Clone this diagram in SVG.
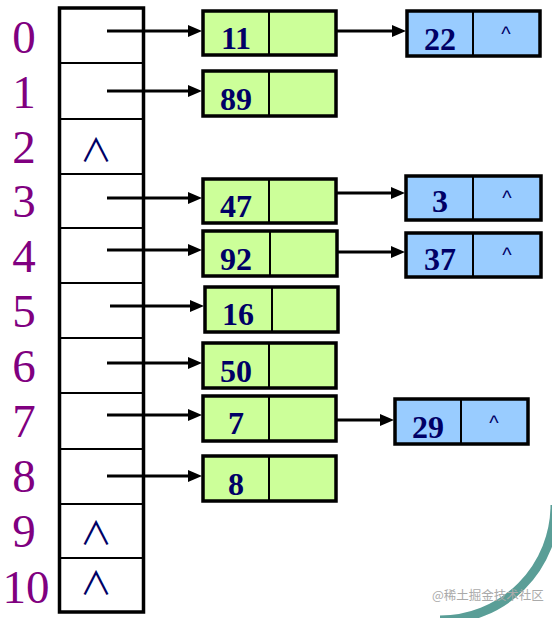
<svg xmlns="http://www.w3.org/2000/svg" width="552" height="618" viewBox="0 0 552 618">
<style>
.idx{font-family:"Liberation Serif","Times New Roman",serif;font-size:47px;fill:#800080;text-anchor:middle}
.val{font-family:"Liberation Serif","Times New Roman",serif;font-size:32px;font-weight:bold;fill:#000066;text-anchor:middle}
.nul{font-family:"Noto Sans CJK JP","DejaVu Sans",sans-serif;font-size:32px;fill:#000066;text-anchor:middle}
.car{font-family:"Liberation Sans",Arial,sans-serif;font-size:20px;fill:#000066;text-anchor:middle}
.tbl{fill:#ffffff;stroke:#000;stroke-width:3.5}
.row{stroke:#000;stroke-width:2}
.g{fill:#ccff99;stroke:#000;stroke-width:3.5}
.b{fill:#99ccff;stroke:#000;stroke-width:3.5}
.div{stroke:#000;stroke-width:2}
.arr{stroke:#000;stroke-width:3;fill:none;marker-end:url(#ah)}
.wm{font-family:"Noto Sans CJK SC","Liberation Sans",sans-serif;font-size:12.5px;fill:#aaaaaa}
</style>
<defs>
<marker id="ah" markerUnits="userSpaceOnUse" markerWidth="14" markerHeight="12" refX="4" refY="6" orient="auto">
<path d="M0,0 L14,6 L0,12 z" fill="#000"/>
</marker>
</defs>
<path d="M 555 505 A 115 115 0 0 1 440 620" fill="none" stroke="#5a9e97" stroke-width="9"/>
<g id="indices">
<text class="idx" x="24" y="53">0</text>
<text class="idx" x="24" y="108">1</text>
<text class="idx" x="24" y="163">2</text>
<text class="idx" x="24" y="217">3</text>
<text class="idx" x="24" y="272">4</text>
<text class="idx" x="24" y="327">5</text>
<text class="idx" x="24" y="382">6</text>
<text class="idx" x="24" y="437">7</text>
<text class="idx" x="24" y="492">8</text>
<text class="idx" x="24" y="547">9</text>
<text class="idx" x="26" y="603">10</text>
</g>
<g id="table">
<rect class="tbl" x="59.5" y="8" width="84" height="604"/>
<line class="row" x1="59" y1="63" x2="144" y2="63"/>
<line class="row" x1="59" y1="119" x2="144" y2="119"/>
<line class="row" x1="59" y1="174" x2="144" y2="174"/>
<line class="row" x1="59" y1="228" x2="144" y2="228"/>
<line class="row" x1="59" y1="283" x2="144" y2="283"/>
<line class="row" x1="59" y1="338" x2="144" y2="338"/>
<line class="row" x1="59" y1="393" x2="144" y2="393"/>
<line class="row" x1="59" y1="449" x2="144" y2="449"/>
<line class="row" x1="59" y1="504" x2="144" y2="504"/>
<line class="row" x1="59" y1="558" x2="144" y2="558"/>
<text class="nul" x="96" y="162">∧</text>
<text class="nul" x="96" y="545">∧</text>
<text class="nul" x="96" y="595">∧</text>
</g>
<g id="connectors">
<line class="arr" x1="107" y1="31" x2="192" y2="31"/>
<line class="arr" x1="107" y1="91" x2="192" y2="91"/>
<line class="arr" x1="107" y1="198" x2="192" y2="198"/>
<line class="arr" x1="107" y1="250" x2="192" y2="250"/>
<line class="arr" x1="110" y1="306" x2="194" y2="306"/>
<line class="arr" x1="107" y1="363" x2="192" y2="363"/>
<line class="arr" x1="107" y1="415" x2="192" y2="415"/>
<line class="arr" x1="107" y1="476" x2="192" y2="476"/>
<line class="arr" x1="312" y1="31" x2="396" y2="31"/>
<line class="arr" x1="312" y1="193" x2="395" y2="193"/>
<line class="arr" x1="312" y1="252" x2="395" y2="252"/>
<line class="arr" x1="299" y1="420" x2="384" y2="420"/>
</g>
<g id="n11"><rect class="g" x="203" y="11" width="133" height="44"/><line class="div" x1="269" y1="11" x2="269" y2="55"/><text class="val" x="236" y="49">11</text></g>
<g id="n89"><rect class="g" x="203" y="71" width="133" height="45"/><line class="div" x1="269" y1="71" x2="269" y2="116"/><text class="val" x="236" y="110">89</text></g>
<g id="n47"><rect class="g" x="203" y="179" width="133" height="44"/><line class="div" x1="269" y1="179" x2="269" y2="223"/><text class="val" x="236" y="217">47</text></g>
<g id="n92"><rect class="g" x="203" y="231" width="134" height="45"/><line class="div" x1="270" y1="231" x2="270" y2="276"/><text class="val" x="236" y="270">92</text></g>
<g id="n16"><rect class="g" x="205" y="287" width="133" height="45"/><line class="div" x1="272" y1="287" x2="272" y2="332"/><text class="val" x="238" y="325">16</text></g>
<g id="n50"><rect class="g" x="203" y="343" width="133" height="45"/><line class="div" x1="269" y1="343" x2="269" y2="388"/><text class="val" x="236" y="382">50</text></g>
<g id="n7"><rect class="g" x="203" y="396" width="133" height="45"/><line class="div" x1="269" y1="396" x2="269" y2="441"/><text class="val" x="236" y="434">7</text></g>
<g id="n8"><rect class="g" x="203" y="456" width="133" height="45"/><line class="div" x1="269" y1="456" x2="269" y2="501"/><text class="val" x="236" y="495">8</text></g>
<g id="n22"><rect class="b" x="407" y="11" width="133" height="45"/><line class="div" x1="473" y1="11" x2="473" y2="56"/><text class="val" x="440" y="50">22</text><text class="car" x="506" y="41">^</text></g>
<g id="n3"><rect class="b" x="406" y="176" width="135" height="44"/><line class="div" x1="473" y1="176" x2="473" y2="220"/><text class="val" x="440" y="212">3</text><text class="car" x="507" y="205">^</text></g>
<g id="n37"><rect class="b" x="406" y="233" width="135" height="44"/><line class="div" x1="473" y1="233" x2="473" y2="277"/><text class="val" x="440" y="270">37</text><text class="car" x="507" y="262">^</text></g>
<g id="n29"><rect class="b" x="395" y="399" width="133" height="45"/><line class="div" x1="461" y1="399" x2="461" y2="444"/><text class="val" x="428" y="438">29</text><text class="car" x="494" y="430">^</text></g>
<text class="wm" x="432" y="600">@稀土掘金技术社区</text>
</svg>
